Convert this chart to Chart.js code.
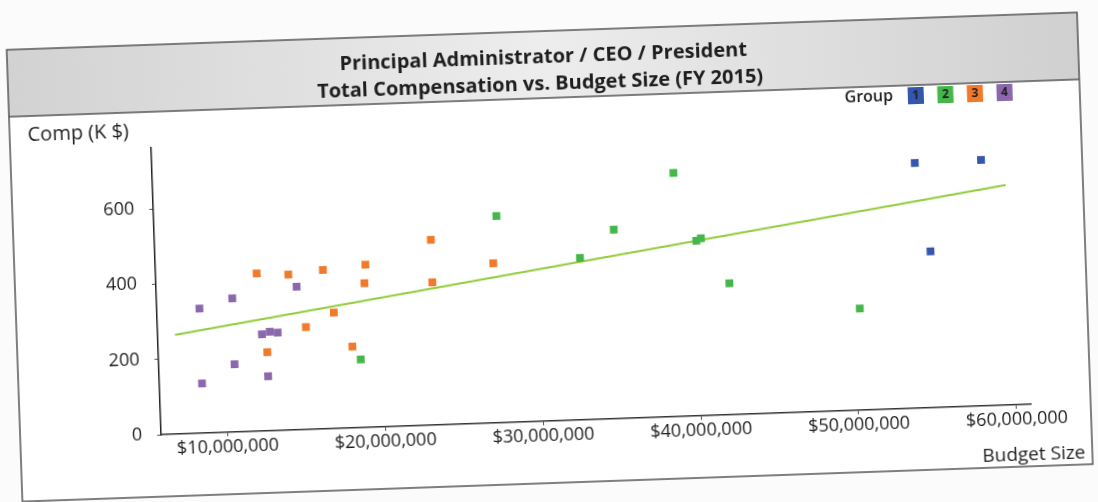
<!DOCTYPE html>
<html>
<head>
<meta charset="utf-8">
<script src="https://cdn.jsdelivr.net/npm/chart.js@4.4.1/dist/chart.umd.min.js"></script>
<style>
  html, body { margin: 0; padding: 0; background: #fbfbfb; overflow: hidden; }
  #wrap { width: 1098px; height: 502px; transform: rotate(-2deg); transform-origin: 549px 251px; }
</style>
</head>
<body>
<div id="wrap"><canvas id="scatter" width="1098" height="502"></canvas></div>
<script>
// budget in $ millions, comp in K $
var budget1 = [54.1, 58.3, 54.9];
var comp1   = [651, 653, 415];
var budget2 = [18.6, 27.5, 32.7, 34.9, 38.8, 40.1, 40.4, 42.1, 50.3];
var comp2   = [181, 549, 430, 502, 647, 465, 471, 349, 270];
var budget3 = [12.2, 14.2, 16.4, 19.1, 19.0, 23.3, 23.3, 27.2, 17.0, 15.2, 12.7, 18.1];
var comp3   = [419, 413, 422, 432, 383, 492, 379, 424, 308, 272, 209, 216];
var budget4 = [8.5, 10.6, 14.7, 12.4, 12.9, 13.4, 10.6, 12.7, 8.5];
var comp4   = [331, 355, 380, 257, 263, 260, 180, 145, 132];

var groups = ['1', '2', '3', '4'];
var groupColors = ['#3456ae', '#45b649', '#f07a2a', '#8b68ad'];
var xTicks = [10, 20, 30, 40, 50, 60];
var yTicks = [0, 200, 400, 600];
var trendRange = [6.9, 59.8];

function pts(xs, ys) {
    return xs.map(function (x, i) { return { x: x * 1e6, y: ys[i] }; });
}

// linear trend over all points
var allX = budget1.concat(budget2, budget3, budget4);
var allY = comp1.concat(comp2, comp3, comp4);
var n = allX.length, sx = 0, sy = 0, sxy = 0, sxx = 0;
for (var i = 0; i < n; i++) {
    sx += allX[i]; sy += allY[i]; sxy += allX[i] * allY[i]; sxx += allX[i] * allX[i];
}
var slope = (n * sxy - sx * sy) / (n * sxx - sx * sx);
var icept = (sy - slope * sx) / n;
var trend = trendRange.map(function (x) { return { x: x * 1e6, y: icept + slope * x }; });

var series = [[budget1, comp1], [budget2, comp2], [budget3, comp3], [budget4, comp4]];
var datasets = [{
    type: 'line',
    data: trend,
    borderColor: '#92cc3a',
    borderWidth: 2,
    pointRadius: 0,
    order: 5
}];
series.forEach(function (s, k) {
    datasets.push({
        label: groups[k],
        data: pts(s[0], s[1]),
        backgroundColor: groupColors[k],
        borderColor: groupColors[k],
        pointStyle: 'rect',
        pointRadius: 5.5,
        pointBorderWidth: 0,
        order: 1
    });
});

var frame = {
    id: 'frame',
    beforeDraw: function (chart) {
        var ctx = chart.ctx;
        ctx.save();
        ctx.fillStyle = '#ffffff';
        ctx.fillRect(14, 31, 1071, 452);
        var g = ctx.createLinearGradient(14, 0, 1085, 0);
        g.addColorStop(0, '#d2d2d2');
        g.addColorStop(0.3, '#e2e2e2');
        g.addColorStop(0.5, '#ededed');
        g.addColorStop(0.75, '#dedede');
        g.addColorStop(1, '#d0d0d0');
        ctx.fillStyle = g;
        ctx.fillRect(14, 31, 1071, 67);
        ctx.strokeStyle = '#555';
        ctx.lineWidth = 1.5;
        ctx.strokeRect(14, 31, 1071, 452);
        ctx.beginPath();
        ctx.moveTo(14, 98);
        ctx.lineTo(1085, 98);
        ctx.stroke();
        ctx.restore();
    },
    afterDraw: function (chart) {
        var ctx = chart.ctx;
        ctx.save();
        ctx.fillStyle = '#1e1e1e';
        ctx.textAlign = 'center';
        ctx.textBaseline = 'middle';
        ctx.font = 'bold 20px "Open Sans"';
        ctx.fillText('Principal Administrator / CEO / President', 550, 57);
        ctx.fillText('Total Compensation vs. Budget Size (FY 2015)', 546, 84);

        ctx.font = '20px "Open Sans"';
        ctx.textAlign = 'left';
        ctx.fillText('Comp (K $)', 32, 117);
        ctx.font = '19px "Open Sans"';
        ctx.textAlign = 'right';
        ctx.fillText('Budget Size', 1078, 472);

        // legend
        ctx.font = '600 16px "Open Sans"';
        ctx.textAlign = 'center';
        ctx.fillText('Group', 874, 108);
        ctx.font = 'bold 12px "Open Sans"';
        groups.forEach(function (gname, k) {
            var cx = 921 + k * 29.6;
            ctx.fillStyle = groupColors[k];
            ctx.fillRect(cx - 8, 100, 16, 17);
            ctx.fillStyle = '#222';
            ctx.fillText(gname, cx, 109);
        });
        ctx.restore();
    }
};

new Chart(document.getElementById('scatter'), {
    type: 'scatter',
    data: { datasets: datasets },
    plugins: [frame],
    options: {
        responsive: false,
        animation: false,
        layout: { padding: { top: 134, right: 73, left: 0, bottom: 0 } },
        plugins: { legend: { display: false }, tooltip: { enabled: false } },
        scales: {
            x: {
                type: 'linear',
                min: 5.8e6,
                max: 60.9e6,
                afterFit: function (s) { s.height = 81; },
                afterBuildTicks: function (s) { s.ticks = xTicks.map(function (v) { return { value: v * 1e6 }; }); },
                border: { display: true, color: '#333', width: 1.5 },
                grid: { display: true, drawOnChartArea: false, tickLength: 4, color: '#555' },
                ticks: {
                    padding: 0,
                    color: '#1e1e1e',
                    font: { family: 'Open Sans', size: 18 },
                    maxRotation: 0,
                    callback: function (v) { return '$' + v.toLocaleString('en-US'); }
                }
            },
            y: {
                min: 0,
                max: 762,
                afterFit: function (s) { s.width = 155; },
                afterBuildTicks: function (s) { s.ticks = yTicks.map(function (v) { return { value: v }; }); },
                border: { display: true, color: '#222', width: 1.5 },
                grid: { display: true, drawOnChartArea: false, tickLength: 4, color: '#555' },
                ticks: {
                    padding: 15,
                    color: '#1e1e1e',
                    font: { family: 'Open Sans', size: 18 }
                }
            }
        }
    }
});
</script>
</body>
</html>
